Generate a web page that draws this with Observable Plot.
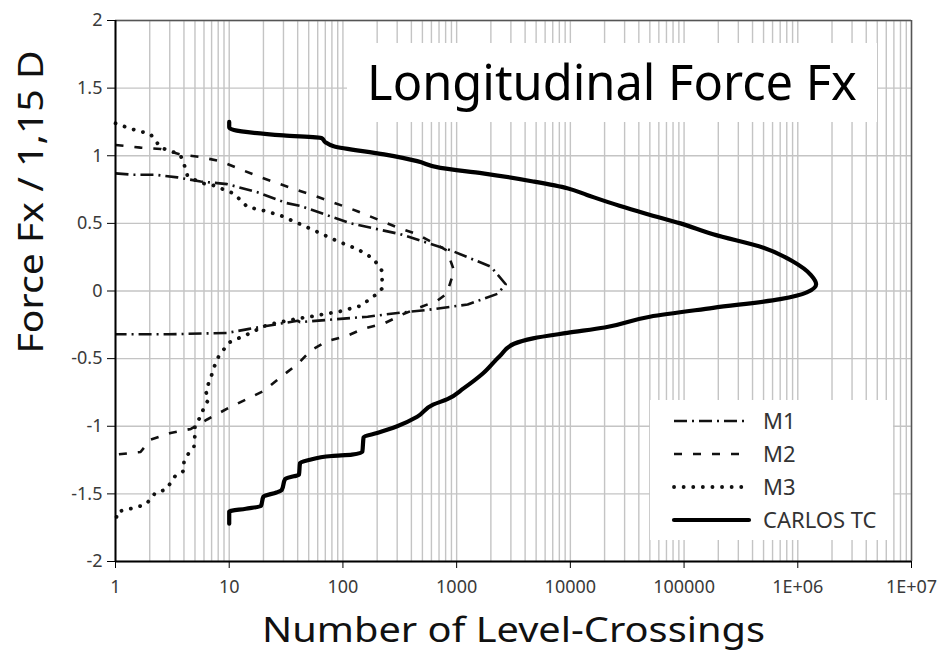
<!DOCTYPE html>
<html>
<head>
<meta charset="utf-8">
<script src="https://cdn.jsdelivr.net/npm/d3@7"></script>
<script src="https://cdn.jsdelivr.net/npm/@observablehq/plot@0.6"></script>
<style>
  html, body { margin: 0; padding: 0; background: white; }
  #wrap { position: relative; width: 940px; height: 657px; font-family: 'Noto Sans', sans-serif; }
  #titlebox { position: absolute; left: 347px; top: 43px; width: 530px; height: 79px; background: white; }
  #legendbox { position: absolute; left: 650px; top: 400px; width: 243px; height: 140px; background: white; }
</style>
</head>
<body>
<div id="wrap"></div>
<script>
// ---- data ----
const chartTitle = "Longitudinal Force Fx";
const xAxisTitle = "Number of Level-Crossings";
const yAxisTitle = "Force Fx / 1,15 D";
const seriesNames = ["M1", "M2", "M3", "CARLOS TC"];

const crossingsTicks = [1, 10, 100, 1000, 10000, 100000, 1e6, 1e7];
const crossingsTickLabels = ["1", "10", "100", "1000", "10000", "100000", "1E+06", "1E+07"];
const forceTicks = [-2, -1.5, -1, -0.5, 0, 0.5, 1, 1.5, 2];
const forceTickLabels = ["-2", "-1.5", "-1", "-0.5", "0", "0.5", "1", "1.5", "2"];

// M1 (dash-dot)
const m1Crossings = [1, 1.4, 2.2, 3.5, 5.6, 9.6, 17.7, 32, 42, 117, 320, 890, 2000, 2700, 2300, 1250, 550, 320, 165, 83, 42, 40, 15, 9.6, 2.9, 1];
const m1Force     = [0.87, 0.86, 0.86, 0.84, 0.81, 0.79, 0.73, 0.65, 0.63, 0.50, 0.42, 0.30, 0.18, 0.05, -0.02, -0.10, -0.14, -0.16, -0.19, -0.21, -0.23, -0.22, -0.28, -0.31, -0.32, -0.32];

// M2 (dashed)
const m2Crossings = [1, 1.66, 2.5, 3.7, 5.6, 8.4, 12.5, 19, 28, 42, 63, 134, 300, 450, 820, 950, 820, 680, 340, 230, 150, 110, 73, 52, 40, 28, 20, 13.4, 9.6, 6.4, 4.6, 3.05, 2.03, 1.66, 1];
const m2Force     = [1.08, 1.06, 1.05, 1.01, 0.99, 0.96, 0.90, 0.84, 0.79, 0.74, 0.69, 0.59, 0.47, 0.42, 0.30, 0.15, -0.02, -0.07, -0.17, -0.24, -0.28, -0.33, -0.37, -0.44, -0.54, -0.64, -0.74, -0.81, -0.87, -0.95, -1.02, -1.05, -1.10, -1.19, -1.21];

// M3 (dotted)
const m3Crossings = [1, 1.35, 2.03, 2.5, 3.7, 4.0, 4.3, 5.6, 7.3, 9, 11, 14.5, 19, 28, 52, 89, 134, 185, 220, 222, 200, 143, 95, 60, 37, 21.6, 14.5, 10, 9, 8, 7.3, 6.9, 6.2, 6.6, 6.0, 5.6, 5.0, 5.0, 4.9, 4.4, 4.0, 4.0, 3.4, 3.05, 2.75, 2.25, 2.03, 1.83, 1.5, 1.22, 1.04, 1];
const m3Force     = [1.24, 1.20, 1.16, 1.06, 1.01, 0.94, 0.85, 0.80, 0.78, 0.75, 0.72, 0.62, 0.60, 0.56, 0.46, 0.37, 0.31, 0.24, 0.15, 0.02, -0.02, -0.11, -0.15, -0.18, -0.21, -0.25, -0.32, -0.38, -0.43, -0.49, -0.57, -0.64, -0.74, -0.80, -0.86, -0.93, -0.99, -1.06, -1.15, -1.20, -1.26, -1.33, -1.36, -1.42, -1.47, -1.49, -1.54, -1.58, -1.60, -1.62, -1.63, -1.72];

// CARLOS TC (solid)
const carlosCrossings = [10, 10, 14, 19, 20, 26, 29, 31, 37, 41, 42, 50, 80, 120, 148, 152, 200, 300, 450, 620, 830, 1150, 1700, 2400, 3200, 4700, 9400, 20000, 50000, 180000, 700000, 1200000, 1450000, 1300000, 900000, 500000, 180000, 93000, 47000, 27000, 14000, 9400, 4700, 1700, 720, 450, 230, 83, 70, 65, 30, 11, 10, 10];
const carlosForce     = [-1.72, -1.63, -1.61, -1.59, -1.52, -1.49, -1.47, -1.39, -1.37, -1.36, -1.27, -1.25, -1.22, -1.21, -1.19, -1.08, -1.05, -1.0, -0.93, -0.84, -0.80, -0.72, -0.61, -0.48, -0.39, -0.35, -0.31, -0.27, -0.19, -0.125, -0.06, -0.01, 0.05, 0.12, 0.22, 0.32, 0.42, 0.50, 0.57, 0.63, 0.71, 0.76, 0.81, 0.87, 0.91, 0.96, 1.01, 1.07, 1.10, 1.13, 1.15, 1.19, 1.21, 1.25];

// ---- build ----
const rows = (xs, ys) => xs.map((n, i) => ({n, f: ys[i]}));
const m1 = rows(m1Crossings, m1Force);
const m2 = rows(m2Crossings, m2Force);
const m3 = rows(m3Crossings, m3Force);
const carlos = rows(carlosCrossings, carlosForce);

const styles = [
  {stroke: "#111", strokeWidth: 2.6, strokeDasharray: "13,5,2,5", strokeLinecap: "butt"},
  {stroke: "#111", strokeWidth: 2.6, strokeDasharray: "8,11", strokeLinecap: "butt"},
  {stroke: "#111", strokeWidth: 3.8, strokeDasharray: "0.1,9.5", strokeLinecap: "round"},
  {stroke: "#000", strokeWidth: 4.2, strokeDasharray: null, strokeLinecap: "round"}
];

const minorTicks = [];
for (let k = 0; k < 7; k++) for (let m = 1; m <= 9; m++) minorTicks.push(m * Math.pow(10, k));
minorTicks.push(1e7);

const chart = Plot.plot({
  width: 940,
  height: 657,
  marginLeft: 115,
  marginRight: 29,
  marginTop: 20,
  marginBottom: 96,
  x: {type: "log", domain: [1, 1e7]},
  y: {domain: [-2, 2]},
  style: {fontFamily: "'Noto Sans', sans-serif", background: "white", overflow: "visible"},
  marks: [
    Plot.gridX(minorTicks, {stroke: "#c4c4c4", strokeOpacity: 1, strokeWidth: 1.4}),
    Plot.gridY(forceTicks, {stroke: "#c4c4c4", strokeOpacity: 1, strokeWidth: 1.4}),
    Plot.ruleY([2], {stroke: "#555", strokeWidth: 1.5}),
    Plot.ruleX([1e7], {stroke: "#555", strokeWidth: 1.5}),
    Plot.axisX(crossingsTicks, {
      tickFormat: d => crossingsTickLabels[crossingsTicks.indexOf(d)],
      tickSize: 7, tickPadding: 12, fontSize: 18, fill: "#3a3a3a", stroke: "#000", label: null
    }),
    Plot.axisY(forceTicks, {
      tickFormat: d => forceTickLabels[forceTicks.indexOf(d)],
      tickSize: 8, tickPadding: 5, fontSize: 18, fill: "#3a3a3a", stroke: "#000", label: null
    }),
    Plot.line(m1, {x: "n", y: "f", ...styles[0]}),
    Plot.line(m2, {x: "n", y: "f", ...styles[1]}),
    Plot.line(m3, {x: "n", y: "f", ...styles[2]}),
    Plot.line(carlos, {x: "n", y: "f", ...styles[3], strokeLinejoin: "round", curve: "monotone-y"}),
    Plot.ruleY([-2], {stroke: "#000", strokeWidth: 2}),
    Plot.ruleX([1], {stroke: "#000", strokeWidth: 2}),
    Plot.text([xAxisTitle], {frameAnchor: "bottom", lineAnchor: "middle", textAnchor: "middle", dy: 69, text: d => d, fontSize: 35, fill: "#111"}),
    Plot.text([yAxisTitle], {frameAnchor: "left", textAnchor: "middle", lineAnchor: "middle", dx: -84, dy: -89, rotate: -90, text: d => d, fontSize: 35, fill: "#111"})
  ]
});

// stretch the axis titles to the reference's text lengths
d3.select(chart).selectAll("text").each(function () {
  const t = this.textContent;
  if (t === xAxisTitle) d3.select(this).attr("textLength", 503).attr("lengthAdjust", "spacingAndGlyphs");
  if (t === yAxisTitle) d3.select(this).attr("textLength", 303).attr("lengthAdjust", "spacingAndGlyphs");
});

const wrap = document.getElementById("wrap");
wrap.appendChild(chart);

// title box
const tb = document.createElement("div");
tb.id = "titlebox";
tb.innerHTML = `<svg width="530" height="79" style="overflow:visible"><text id="ttl" x="265" y="57" text-anchor="middle" font-size="50" fill="#000" font-family="'Noto Sans', sans-serif">${chartTitle}</text></svg>`;
wrap.appendChild(tb);
// fit the title's natural width to ~490px so it stays inside its box
const ttl = tb.querySelector("#ttl");
const w0 = ttl.getComputedTextLength();
if (w0 > 0) ttl.setAttribute("font-size", (50 * 490 / w0).toFixed(2));

// legend box
const lb = document.createElement("div");
lb.id = "legendbox";
const rowY = [21, 54, 87, 120];
let leg = `<svg width="243" height="140">`;
seriesNames.forEach((name, i) => {
  const s = styles[i];
  leg += `<line x1="24" x2="99" y1="${rowY[i]}" y2="${rowY[i]}" stroke="${s.stroke}" stroke-width="${s.strokeWidth}" ${s.strokeDasharray ? `stroke-dasharray="${s.strokeDasharray}"` : ""} stroke-linecap="${s.strokeLinecap}"/>`;
  leg += `<text x="113" y="${rowY[i] + 8}" font-size="22" fill="#333" font-family="'Noto Sans', sans-serif">${name}</text>`;
});
leg += `</svg>`;
lb.innerHTML = leg;
wrap.appendChild(lb);
</script>
</body>
</html>
